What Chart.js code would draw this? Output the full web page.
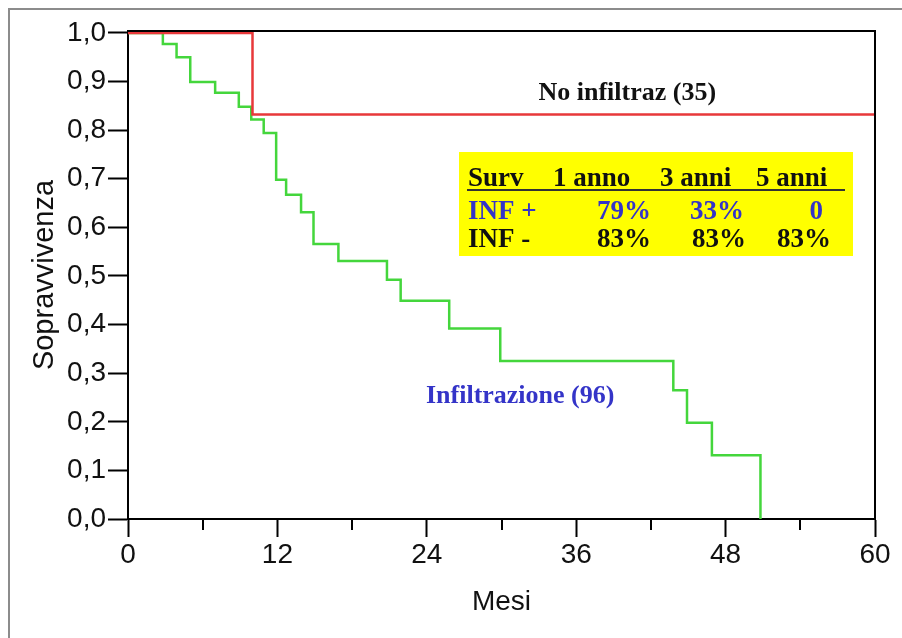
<!DOCTYPE html>
<html>
<head>
<meta charset="utf-8">
<script src="https://cdn.jsdelivr.net/npm/chart.js@4.4.1/dist/chart.umd.min.js"></script>
<style>
  body { margin: 0; background: #fff; }
  #chart { display: block; }
</style>
</head>
<body>
<canvas id="chart" width="902" height="638"></canvas>
<script>
// months / survival
const infMonths = [0, 2.8, 3.9, 5.0, 7.0, 8.9, 9.9, 10.9, 11.9, 12.7, 13.9, 14.9, 16.9, 20.8, 21.9, 25.8, 29.9, 43.8, 44.9, 46.9, 50.8];
const infSurv   = [1.0, 0.977, 0.95, 0.899, 0.877, 0.848, 0.822, 0.794, 0.698, 0.667, 0.631, 0.566, 0.531, 0.492, 0.449, 0.392, 0.325, 0.265, 0.198, 0.131, 0.0];
const noInfMonths = [0, 10.0, 60];
const noInfSurv   = [1.0, 0.832, 0.832];

const xTicks = [0, 12, 24, 36, 48, 60];
const xMinorTicks = [6, 18, 30, 42, 54];
const yTicks = [0, 0.1, 0.2, 0.3, 0.4, 0.5, 0.6, 0.7, 0.8, 0.9, 1.0];

const tableHeader = ['Surv', '1 anno', '3 anni', '5 anni'];
const tableRows = [
  { label: 'INF +', values: ['79%', '33%', '0'], color: '#3434c8' },
  { label: 'INF -', values: ['83%', '83%', '83%'], color: '#111' },
];

const toPoints = (xs, ys) => xs.map((x, i) => ({ x: x, y: ys[i] }));

const decorations = {
  id: 'decorations',
  beforeDraw(chart) {
    const ctx = chart.ctx;
    ctx.save();
    ctx.fillStyle = '#fff';
    ctx.fillRect(0, 0, chart.width, chart.height);
    ctx.strokeStyle = '#8c8c8c';
    ctx.lineWidth = 2;
    ctx.strokeRect(9, 9, 1000, 1000);
    ctx.restore();
  },
  afterDraw(chart) {
    const ctx = chart.ctx;
    const a = chart.chartArea;
    const xs = chart.scales.x;
    const ys = chart.scales.y;
    ctx.save();

    // top + right frame
    ctx.strokeStyle = '#000';
    ctx.lineWidth = 2;
    ctx.beginPath();
    ctx.moveTo(a.left, a.top);
    ctx.lineTo(a.right, a.top);
    ctx.lineTo(a.right, a.bottom);
    ctx.stroke();

    // minor ticks on x
    ctx.beginPath();
    xMinorTicks.forEach(v => {
      const px = Math.round(xs.getPixelForValue(v));
      ctx.moveTo(px, a.bottom);
      ctx.lineTo(px, a.bottom + 11);
    });
    ctx.stroke();

    // curve labels
    ctx.font = 'bold 26px "Liberation Serif"';
    ctx.textAlign = 'center';
    ctx.textBaseline = 'alphabetic';
    ctx.fillStyle = '#111';
    ctx.fillText('No infiltraz (35)', xs.getPixelForValue(40.1), ys.getPixelForValue(0.862));
    ctx.fillStyle = '#3434c8';
    ctx.fillText('Infiltrazione (96)', xs.getPixelForValue(31.5), ys.getPixelForValue(0.239));

    // survival table
    ctx.fillStyle = '#ffff00';
    ctx.fillRect(459, 152, 394, 104);
    ctx.font = 'bold 27px "Liberation Serif"';
    ctx.fillStyle = '#111';
    ctx.textAlign = 'left';
    const headX = [468, 553, 660, 756];
    tableHeader.forEach((t, i) => ctx.fillText(t, headX[i], 186));
    ctx.strokeStyle = '#333';
    ctx.lineWidth = 2;
    ctx.beginPath();
    ctx.moveTo(467, 190);
    ctx.lineTo(845, 190);
    ctx.stroke();
    const rowY = [219, 247];
    const valRight = [[651, 744, 823], [651, 746, 831]];
    tableRows.forEach((r, j) => {
      ctx.fillStyle = r.color;
      ctx.textAlign = 'left';
      ctx.fillText(r.label, 468, rowY[j]);
      ctx.textAlign = 'right';
      r.values.forEach((v, i) => ctx.fillText(v, valRight[j][i], rowY[j]));
    });
    ctx.restore();
  }
};

const ctx = document.getElementById('chart').getContext('2d');
const chart = new Chart(ctx, {
  type: 'line',
  data: {
    datasets: [
      {
        label: 'No infiltraz',
        data: toPoints(noInfMonths, noInfSurv),
        borderColor: '#e8383a',
        borderWidth: 2.5,
        stepped: true,
        pointRadius: 0,
        fill: false,
        clip: false,
      },
      {
        label: 'Infiltrazione',
        data: toPoints(infMonths, infSurv),
        borderColor: '#44d63c',
        borderWidth: 2.5,
        stepped: true,
        pointRadius: 0,
        fill: false,
        clip: false,
      },
    ],
  },
  options: {
    responsive: false,
    animation: false,
    layout: { padding: { left: 0, top: 31, right: 27, bottom: 0 } },
    plugins: {
      legend: { display: false },
      tooltip: { enabled: false },
    },
    scales: {
      x: {
        type: 'linear',
        min: 0,
        max: 60,
        afterBuildTicks: s => { s.ticks = xTicks.map(v => ({ value: v })); },
        afterFit: s => { s.height = 119; },
        border: { color: '#000', width: 2 },
        grid: { drawOnChartArea: false, drawTicks: true, tickLength: 18, tickColor: '#000', tickWidth: 2 },
        ticks: { color: '#111', padding: 1, maxRotation: 0, font: { family: 'Liberation Sans', size: 28 } },
        title: { display: true, text: 'Mesi', color: '#111', padding: { top: 0, bottom: 19 }, font: { family: 'Liberation Sans', size: 28 } },
      },
      y: {
        type: 'linear',
        min: 0,
        max: 1.004,
        afterBuildTicks: s => { s.ticks = yTicks.map(v => ({ value: v })); },
        afterFit: s => { s.width = 128; },
        border: { color: '#000', width: 2 },
        grid: { drawOnChartArea: false, drawTicks: true, tickLength: 20, tickColor: '#000', tickWidth: 2 },
        ticks: {
          color: '#111',
          padding: 2,
          font: { family: 'Liberation Sans', size: 28 },
          callback: v => v.toFixed(1).replace('.', ','),
        },
        title: { display: true, text: 'Sopravvivenza', color: '#111', padding: { top: 28, bottom: 0 }, font: { family: 'Liberation Sans', size: 29 } },
      },
    },
  },
  plugins: [decorations],
});
</script>
</body>
</html>
